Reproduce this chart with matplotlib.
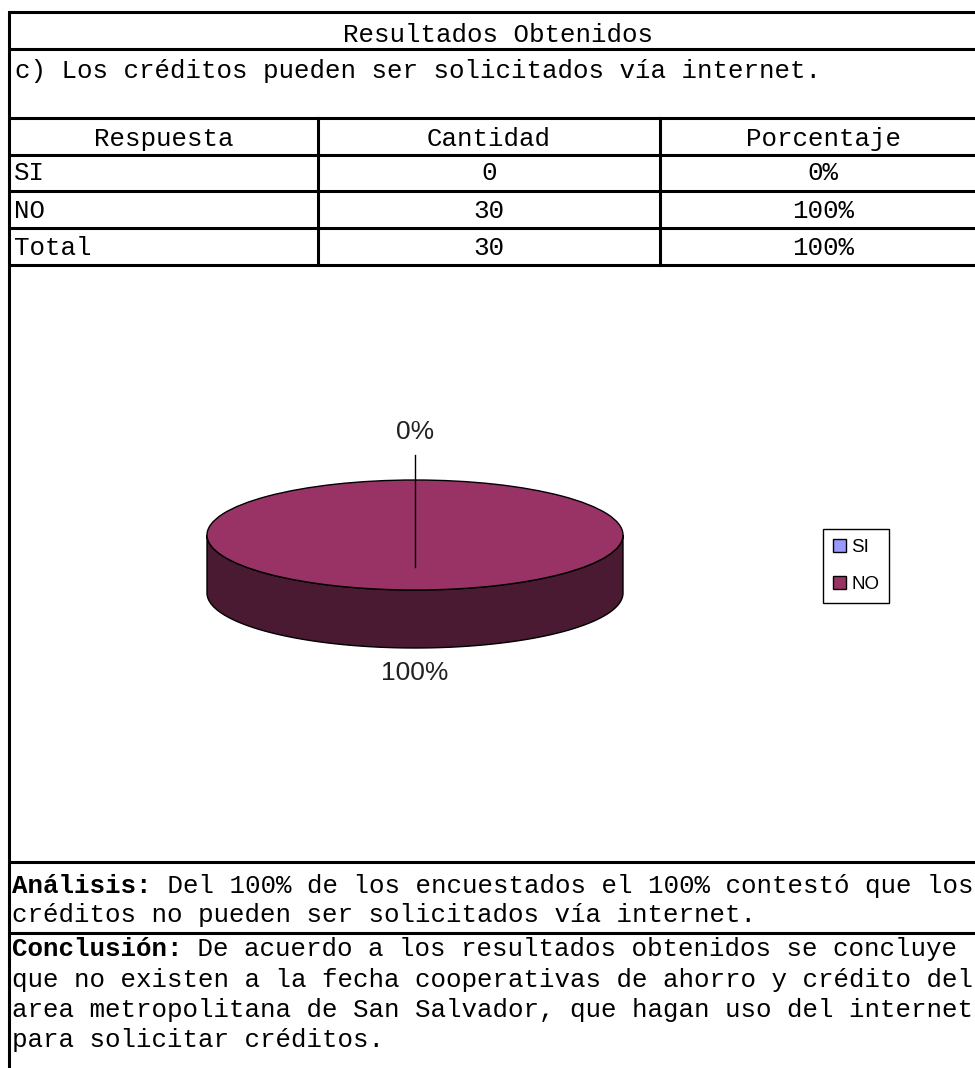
import matplotlib.pyplot as plt
import numpy as np

# datos de la encuesta
categorias = ['SI', 'NO']
cantidad = [0, 30]
porcentaje = [0, 100]
colores = ['#9999ff', '#993366']
colores_lado = ['#4d4d80', '#4a1a33']

titulo = 'Resultados Obtenidos'
pregunta = 'c) Los créditos pueden ser solicitados vía internet.'
encabezados = ['Respuesta', 'Cantidad', 'Porcentaje']
analisis = ['Del 100% de los encuestados el 100% contestó que los',
            'créditos no pueden ser solicitados vía internet.']
conclusion = ['De acuerdo a los resultados obtenidos se concluye',
              'que no existen a la fecha cooperativas de ahorro y crédito del',
              'area metropolitana de San Salvador, que hagan uso del internet',
              'para solicitar créditos.']

W, H = 975, 1068
fig = plt.figure(figsize=(W / 100, H / 100), dpi=100)
fig.patch.set_facecolor('white')

# capa de la tabla en coordenadas de pixel
ax = fig.add_axes([0, 0, 1, 1])
ax.set_xlim(0, W)
ax.set_ylim(H, 0)
ax.axis('off')

mono = 'Liberation Mono'
fs = 18.6
adv = 0.6 * fs * 100 / 72
lw = 2.2

for y in [12, 49, 118, 155, 191, 228, 265, 862, 933]:
    ax.plot([9, W + 5], [y, y], color='black', lw=lw, solid_capstyle='butt')
ax.plot([9, 9], [12, H + 5], color='black', lw=lw)
for x in [318, 660]:
    ax.plot([x, x], [118, 265], color='black', lw=lw)

ax.text(498, 42, titulo, family=mono, fontsize=fs, ha='center', va='baseline')
ax.text(15, 78, pregunta, family=mono, fontsize=fs, ha='left', va='baseline')

col_x = [164, 489, 823]
for cx, t in zip(col_x, encabezados):
    ax.text(cx, 146, t, family=mono, fontsize=fs, ha='center', va='baseline')

filas = categorias + ['Total']
cant_col = cantidad + [sum(cantidad)]
pct_col = porcentaje + [sum(porcentaje)]
for i, (r, c, p) in enumerate(zip(filas, cant_col, pct_col)):
    yb = 180 + i * 37.5
    ax.text(14, yb, r, family=mono, fontsize=fs, ha='left', va='baseline')
    ax.text(col_x[1], yb, str(c), family=mono, fontsize=fs, ha='center', va='baseline')
    ax.text(col_x[2], yb, f'{p}%', family=mono, fontsize=fs, ha='center', va='baseline')


def parrafo(etiqueta, lineas, y0, paso):
    ax.text(12, y0, etiqueta, family=mono, fontsize=fs, weight='bold', va='baseline')
    ax.text(12 + len(etiqueta) * adv, y0, ' ' + lineas[0], family=mono, fontsize=fs, va='baseline')
    for k, ln in enumerate(lineas[1:], 1):
        ax.text(12, y0 + k * paso, ln, family=mono, fontsize=fs, va='baseline')


parrafo('Análisis:', analisis, 893, 29)
parrafo('Conclusión:', conclusion, 956, 30.5)

# pastel 3D
pax = fig.add_axes([105 / W, 1 - 700 / H, 620 / W, 300 / H])
wedges, _ = pax.pie(cantidad, colors=colores, startangle=90, counterclock=False,
                    wedgeprops=dict(edgecolor='black', linewidth=1))
pax.set_aspect('auto')
pax.set_xlim(-1.4904, 1.4904)
pax.set_ylim(-3.0, 2.4545)
pax.axis('off')

prof = 1.0545
for w, cl in zip(wedges, colores_lado):
    t = np.radians(np.linspace(w.theta1, w.theta2, 400))
    m = np.sin(t) <= 0
    if m.sum() < 2:
        continue
    xs, ys = np.cos(t[m]), np.sin(t[m])
    pax.fill(np.r_[xs, xs[::-1]], np.r_[ys, ys[::-1] - prof],
             facecolor=cl, edgecolor='black', lw=1, zorder=0.5)

for w, p in zip(wedges, porcentaje):
    mid = np.radians((w.theta1 + w.theta2) / 2)
    s = np.sin(mid)
    if s > 0:
        ly = s * 1.88
        pax.plot([0, 0], [-0.58, 1.4545], color='black', lw=1)
    else:
        ly = s * 1.45 - prof
    pax.text(np.cos(mid) * 0.0, ly, f'{p}%', family='Liberation Sans', fontsize=19,
             color='#222222', ha='center', va='center')

leg = fig.legend(wedges, categorias, loc='upper left',
                 bbox_to_anchor=(823 / W, 1 - 529 / H), frameon=True, fancybox=False,
                 edgecolor='black', framealpha=1,
                 prop={'family': 'Liberation Sans', 'size': 13.5},
                 handlelength=0.65, handleheight=0.65, handletextpad=0.3,
                 labelspacing=1.05, borderpad=0.55, borderaxespad=0)
leg.get_frame().set_linewidth(1)

fig.savefig('out.png', dpi=100)
